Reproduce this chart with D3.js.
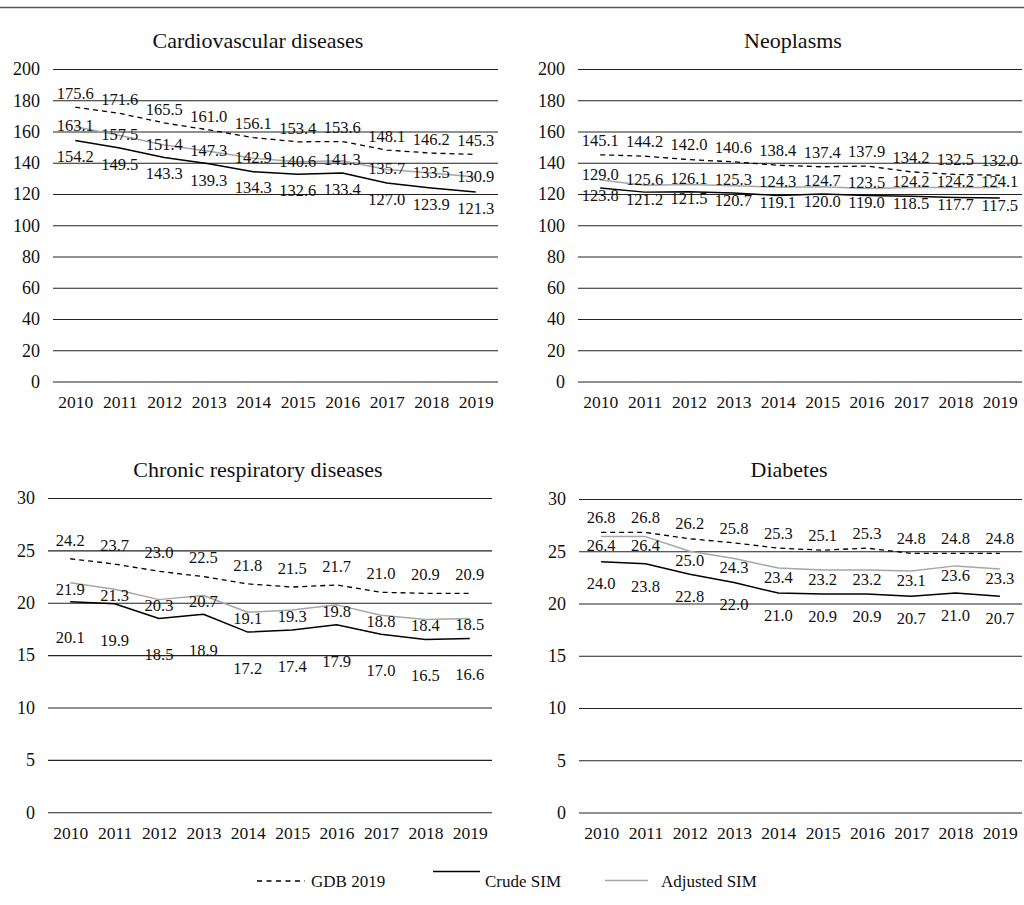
<!DOCTYPE html>
<html><head><meta charset="utf-8">
<script src="https://cdn.jsdelivr.net/npm/d3@7"></script>
<style>
html,body{margin:0;padding:0;background:#fff;}
svg{display:block;font-family:'Liberation Serif','DejaVu Serif','Times New Roman',serif;}
</style></head>
<body>
<svg id="chart" width="1024" height="905"></svg>
<script>
const years = ["2010","2011","2012","2013","2014","2015","2016","2017","2018","2019"];
const seriesNames = ["GDB 2019","Crude SIM","Adjusted SIM"];

const cvdGDB      = [175.6,171.6,165.5,161.0,156.1,153.4,153.6,148.1,146.2,145.3];
const cvdCrude    = [154.2,149.5,143.3,139.3,134.3,132.6,133.4,127.0,123.9,121.3];
const cvdAdjusted = [163.1,157.5,151.4,147.3,142.9,140.6,141.3,135.7,133.5,130.9];

const neoGDB      = [145.1,144.2,142.0,140.6,138.4,137.4,137.9,134.2,132.5,132.0];
const neoCrude    = [123.8,121.2,121.5,120.7,119.1,120.0,119.0,118.5,117.7,117.5];
const neoAdjusted = [129.0,125.6,126.1,125.3,124.3,124.7,123.5,124.2,124.2,124.1];

const respGDB      = [24.2,23.7,23.0,22.5,21.8,21.5,21.7,21.0,20.9,20.9];
const respCrude    = [20.1,19.9,18.5,18.9,17.2,17.4,17.9,17.0,16.5,16.6];
const respAdjusted = [21.9,21.3,20.3,20.7,19.1,19.3,19.8,18.8,18.4,18.5];

const diabGDB      = [26.8,26.8,26.2,25.8,25.3,25.1,25.3,24.8,24.8,24.8];
const diabCrude    = [24.0,23.8,22.8,22.0,21.0,20.9,20.9,20.7,21.0,20.7];
const diabAdjusted = [26.4,26.4,25.0,24.3,23.4,23.2,23.2,23.1,23.6,23.3];

const ticksLarge = [0,20,40,60,80,100,120,140,160,180,200];
const ticksSmall = [0,5,10,15,20,25,30];

// layout (positions/styles only)
const panels = [
  {title:"Cardiovascular diseases", gdb:cvdGDB, crude:cvdCrude, adj:cvdAdjusted, ticks:ticksLarge,
   x0:53, x1:498, yb:381.5, yt:69, tx:258, ty:40, off:[-14,16,-1]},
  {title:"Neoplasms", gdb:neoGDB, crude:neoCrude, adj:neoAdjusted, ticks:ticksLarge,
   x0:578, x1:1022, yb:381.5, yt:69, tx:793, ty:40, off:[-15,7,-6]},
  {title:"Chronic respiratory diseases", gdb:respGDB, crude:respCrude, adj:respAdjusted, ticks:ticksSmall,
   x0:48, x1:492, yb:812.3, yt:498, tx:258, ty:469, off:[-19,36,6]},
  {title:"Diabetes", gdb:diabGDB, crude:diabCrude, adj:diabAdjusted, ticks:ticksSmall,
   x0:579, x1:1022, yb:812.5, yt:499, tx:789, ty:469, off:[-15,22,9]}
];

const styles = [
  {stroke:"#000", width:1.3, dash:"5,4"},
  {stroke:"#000", width:1.5, dash:null},
  {stroke:"#a6a6a6", width:1.5, dash:null}
];

const svg = d3.select("#chart");

// top rule
svg.append("line").attr("x1",0).attr("x2",1024).attr("y1",7.5).attr("y2",7.5)
  .attr("stroke","#555").attr("stroke-width",1.5);

panels.forEach(p => {
  const g = svg.append("g");
  const x = d3.scalePoint().domain(years).range([p.x0,p.x1]).padding(0.5);
  const y = d3.scaleLinear().domain([0, d3.max(p.ticks)]).range([p.yb,p.yt]);

  const ya = g.append("g").attr("transform",`translate(${p.x0},0)`)
    .call(d3.axisLeft(y).tickValues(p.ticks).tickSize(-(p.x1-p.x0)).tickPadding(13).tickFormat(d3.format("d")));
  ya.select(".domain").remove();
  ya.selectAll(".tick line").attr("stroke","#222").attr("stroke-width",1.1);
  ya.selectAll(".tick text").attr("font-size","18px").attr("fill","#111")
    .attr("font-family","'Liberation Serif',serif");

  const xa = g.append("g").attr("transform",`translate(0,${p.yb})`)
    .call(d3.axisBottom(x).tickSize(0).tickPadding(14));
  xa.select(".domain").remove();
  xa.selectAll(".tick text").attr("font-size","17.5px").attr("fill","#111")
    .attr("font-family","'Liberation Serif',serif");

  g.append("text").attr("x",p.tx).attr("y",p.ty).attr("dy","0.35em")
    .attr("text-anchor","middle").attr("font-size","22px").attr("fill","#111").text(p.title);

  const line = d3.line().x((d,i)=>x(years[i])).y(d=>y(d));
  const sets = [p.gdb, p.crude, p.adj];
  // draw order: adjusted, gdb, crude
  [2,0,1].forEach(si => {
    const s = styles[si];
    const path = g.append("path").datum(sets[si]).attr("d",line)
      .attr("fill","none").attr("stroke",s.stroke).attr("stroke-width",s.width)
      .attr("stroke-linejoin","round");
    if (s.dash) path.attr("stroke-dasharray",s.dash);
  });
  [0,2,1].forEach(si => {
    g.append("g").selectAll("text").data(sets[si]).join("text")
      .attr("x",(d,i)=>x(years[i]))
      .attr("y",d=>y(d)+p.off[si])
      .attr("dy","0.35em")
      .attr("text-anchor","middle")
      .attr("font-size","16.5px").attr("fill","#111")
      .text(d=>d3.format(".1f")(d));
  });
});

// legend
const leg = svg.append("g");
const legItems = [
  {x1:257, x2:305, y:881, tx:311},
  {x1:433, x2:480, y:871.5, tx:485},
  {x1:605, x2:648, y:880.5, tx:661}
];
legItems.forEach((it,i) => {
  const s = styles[i];
  const l = leg.append("line").attr("x1",it.x1).attr("x2",it.x2).attr("y1",it.y).attr("y2",it.y)
    .attr("stroke",s.stroke).attr("stroke-width",s.width);
  if (s.dash) l.attr("stroke-dasharray","5,4.5");
  leg.append("text").attr("x",it.tx).attr("y",881.5).attr("dy","0.35em")
    .attr("font-size","17px").attr("fill","#111").text(seriesNames[i]);
});
</script>
</body></html>
